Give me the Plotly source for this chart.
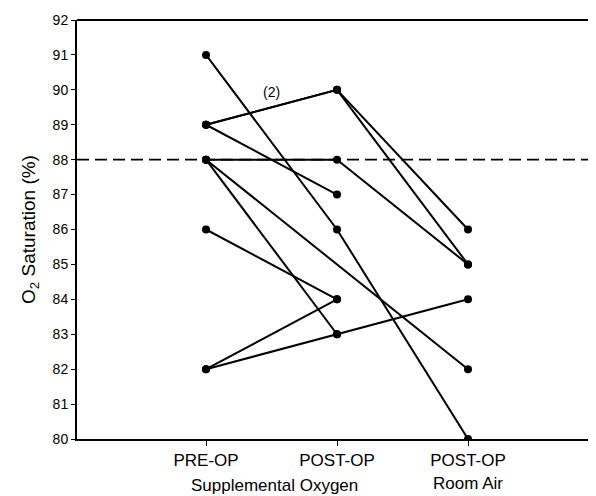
import plotly.graph_objects as go

# Category positions and labels
categories = ["PRE-OP", "POST-OP", "POST-OP<br>Room Air"]
cat_x = [0, 1, 2]

# Individual patient trajectories (O2 saturation %), None = no reading
patients = [
    [91, 86, 80],
    [89, 90, 86],
    [89, 90, 85],
    [89, 87, None],
    [88, 88, 85],
    [88, 83, None],
    [88, None, 82],
    [86, 84, None],
    [82, 84, None],
    [82, 83, 84],
]

y_ticks = list(range(80, 93))
threshold = 88
FONT = "Liberation Sans Narrow, Arial Narrow, Liberation Sans, Arial, sans-serif"

fig = go.Figure()
for vals in patients:
    fig.add_trace(go.Scatter(
        x=cat_x, y=vals, mode="lines+markers", connectgaps=True,
        line=dict(color="black", width=2),
        marker=dict(color="black", size=8),
        showlegend=False, hoverinfo="skip",
    ))

fig.add_shape(type="line", xref="paper", yref="y", x0=0, x1=1, y0=threshold, y1=threshold,
              line=dict(color="black", width=1.6, dash="12px,6px"))

fig.add_annotation(x=0.5, y=89.95, text="(2)", showarrow=False,
                   font=dict(family=FONT, size=14, color="black"))
fig.add_annotation(x=0.52, y=-0.11, xref="x", yref="paper", text="Supplemental Oxygen",
                   showarrow=False, yanchor="middle",
                   font=dict(family=FONT, size=17, color="black"))

# page body has an 8px margin: shrink the figure and margins to compensate
fig.update_layout(
    width=588, height=488,
    margin=dict(l=69, r=0, t=12, b=57),
    paper_bgcolor="white", plot_bgcolor="white",
    font=dict(family=FONT, color="black"),
    xaxis=dict(range=[-0.985, 2.977], tickmode="array", tickvals=cat_x, ticktext=categories,
               showgrid=False, zeroline=False, showline=True, linecolor="black", linewidth=2,
               ticks="outside", ticklen=5, tickcolor="black", automargin=False,
               tickfont=dict(family=FONT, size=17, color="black"), mirror=False),
    yaxis=dict(range=[80, 92], tickmode="array", tickvals=y_ticks,
               showgrid=False, zeroline=False, showline=True, linecolor="black", linewidth=2,
               ticks="outside", ticklen=4, tickcolor="black", automargin=False,
               tickfont=dict(family=FONT, size=14, color="black"),
               title=dict(text="O<sub>2</sub> Saturation (%)", standoff=12,
                          font=dict(family=FONT, size=19, color="black"))),
)
fig.add_shape(type="line", xref="paper", yref="paper", x0=0, x1=1, y0=1, y1=1,
              line=dict(color="black", width=2))

fig.write_html("out.html")
